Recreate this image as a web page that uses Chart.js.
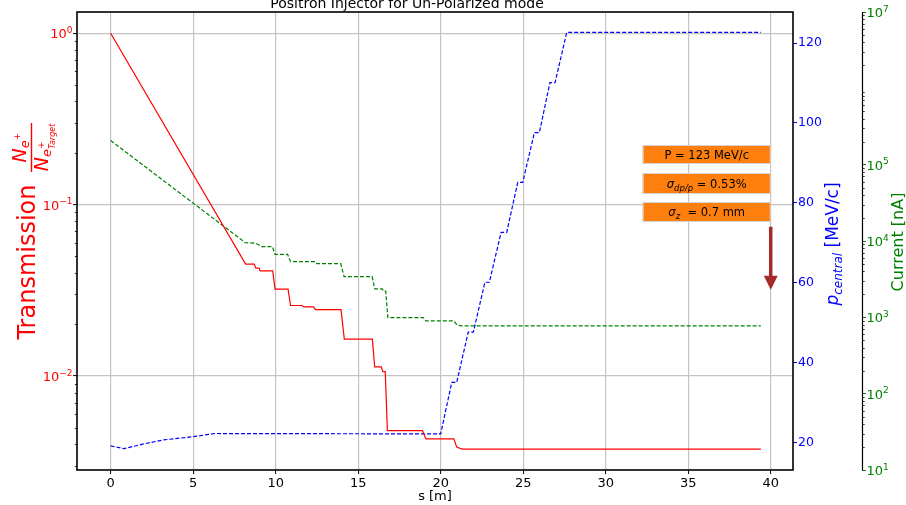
<!DOCTYPE html>
<html>
<head>
<meta charset="utf-8">
<title>Positron Injector for Un-Polarized mode</title>
<script src="https://cdn.jsdelivr.net/npm/chart.js@4.4.1/dist/chart.umd.min.js"></script>
<style>
    html, body { margin: 0; padding: 0; background: #fff; }
    canvas { display: block; }
</style>
</head>
<body>
<canvas id="injector-chart" width="906" height="505"></canvas>
<script>
(function() {
    'use strict';

    // Transmission N(e+) / N(e+ at target) along the beamline, s in metres
    const sTrans = [0, 8.18, 8.7, 8.8, 9.0, 9.05, 9.82, 9.96, 10.75, 10.9,
        11.6, 11.7, 12.3, 12.4, 13.96, 14.16, 15.86, 16.0, 16.4, 16.5,
        16.64, 16.77, 18.9, 19.1, 20.8, 20.97, 21.3, 39.4];
    const transmission = [1.0, 0.045, 0.045, 0.0426, 0.0426, 0.0411, 0.0411, 0.0321, 0.0321, 0.0258,
        0.0258, 0.0253, 0.0253, 0.0244, 0.0244, 0.0164, 0.0164, 0.0113, 0.0113, 0.0106,
        0.0106, 0.0048, 0.0048, 0.0043, 0.0043, 0.00385, 0.00375, 0.00375];

    // Positron current [nA]
    const sCurr = [0, 8.16, 8.8, 9.15, 9.8, 9.96, 10.72, 10.9, 12.4, 12.5,
        13.94, 14.15, 15.85, 16.0, 16.45, 16.55, 16.67, 16.8, 18.95, 19.1,
        20.8, 21.0, 21.3, 39.4];
    const current = [2.07e5, 9.5e3, 9.35e3, 8.45e3, 8.45e3, 6.7e3, 6.7e3, 5.37e3, 5.37e3, 5.05e3,
        5.05e3, 3.41e3, 3.41e3, 2.36e3, 2.36e3, 2.2e3, 2.2e3, 991, 991, 897,
        897, 790, 771, 771];

    // Central momentum [MeV/c]
    const sMom = [0, 0.8, 2, 3.2, 5, 6.3, 20.0, 20.67, 20.97, 21.67,
        21.98, 22.68, 22.95, 23.66, 24.0, 24.67, 24.97, 25.68, 25.98, 26.62,
        26.93, 27.64, 39.4];
    const momentum = [19.1, 18.4, 19.6, 20.6, 21.4, 22.2, 22.1, 35.0, 35.0, 47.6,
        47.6, 60.1, 60.1, 72.6, 72.6, 85.1, 85.1, 97.6, 97.6, 110.1,
        110.1, 122.7, 122.7];

    // Tick positions
    const sTicks = [0, 5, 10, 15, 20, 25, 30, 35, 40];
    const pTicks = [20, 40, 60, 80, 100, 120];
    const transDecades = [-2, -1, 0];
    const currDecades = [1, 2, 3, 4, 5, 7];

    const FONT = "'DejaVu Sans', sans-serif";
    const RED = '#ff0000';
    const GREEN = '#008000';
    const BLUE = '#0000ff';

    Chart.defaults.font.family = FONT;

    function points(xs, ys) {
        return xs.map(function(x, i) { return { x: x, y: ys[i] }; });
    }

    /**
     * Run a drawing callback in a frame rotated 90 degrees counter-clockwise
     */
    function drawRotated(ctx, x, y, fn) {
        ctx.save();
        ctx.translate(x, y);
        ctx.rotate(-Math.PI / 2);
        fn(ctx);
        ctx.restore();
    }

    /**
     * Draw a "10^n" tick label with a raised exponent
     */
    function drawPower(ctx, x, y, exp, color, align) {
        const base = '10';
        const sup = String(exp).replace('-', '\u2212');
        ctx.font = '13px ' + FONT;
        const wb = ctx.measureText(base).width;
        ctx.font = '9px ' + FONT;
        const ws = ctx.measureText(sup).width;
        const left = align === 'right' ? x - wb - ws : x;
        ctx.fillStyle = color;
        ctx.textAlign = 'left';
        ctx.textBaseline = 'alphabetic';
        ctx.font = '13px ' + FONT;
        ctx.fillText(base, left, y + 5);
        ctx.font = '9px ' + FONT;
        ctx.fillText(sup, left + wb, y - 0.5);
    }

    /**
     * Short minor ticks for a log axis
     */
    function drawMinorTicks(ctx, scale, x, dir) {
        const lo = Math.floor(Math.log10(scale.min));
        const hi = Math.ceil(Math.log10(scale.max));
        ctx.beginPath();
        for (let e = lo; e <= hi; e++) {
            for (let k = 2; k <= 9; k++) {
                const v = k * Math.pow(10, e);
                if (v < scale.min || v > scale.max) {
                    continue;
                }
                const y = Math.round(scale.getPixelForValue(v)) + 0.5;
                ctx.moveTo(x, y);
                ctx.lineTo(x + dir * 2.2, y);
            }
        }
        ctx.strokeStyle = '#000';
        ctx.lineWidth = 0.8;
        ctx.stroke();
    }

    /**
     * Runs of text are [text, font, baselineShift]
     */
    function runWidth(ctx, runs) {
        return runs.reduce(function(w, r) {
            ctx.font = r[1];
            return w + ctx.measureText(r[0]).width;
        }, 0);
    }

    function drawRuns(ctx, runs, x, y) {
        ctx.textAlign = 'left';
        ctx.textBaseline = 'alphabetic';
        runs.forEach(function(r) {
            ctx.font = r[1];
            ctx.fillText(r[0], x, y + r[2]);
            x += ctx.measureText(r[0]).width;
        });
    }

    /**
     * Orange parameter box with centred text
     */
    function drawTextBox(ctx, left, top, w, h, runs) {
        ctx.fillStyle = '#ff7f0e';
        ctx.fillRect(left, top, w, h);
        ctx.strokeStyle = '#d4d4d4';
        ctx.lineWidth = 1;
        ctx.strokeRect(left + 0.5, top + 0.5, w - 1, h - 1);
        ctx.fillStyle = '#000';
        const tw = runWidth(ctx, runs);
        drawRuns(ctx, runs, left + (w - tw) / 2, top + h / 2 + 4);
    }

    const decorPlugin = {
        id: 'injectorDecor',
        afterDraw: function(chart) {
            const ctx = chart.ctx;
            const a = chart.chartArea;
            const sx = chart.scales.x;
            const yT = chart.scales.yT;
            const yP = chart.scales.yP;
            const yI = chart.scales.yI;

            ctx.save();

            // Axes frame and the offset current spine
            ctx.strokeStyle = '#000';
            ctx.lineWidth = 1.6;
            ctx.strokeRect(a.left, a.top, a.right - a.left, a.bottom - a.top);
            ctx.lineWidth = 1.2;
            ctx.beginPath();
            ctx.moveTo(yI.left + 0.5, a.top);
            ctx.lineTo(yI.left + 0.5, a.bottom);
            ctx.stroke();

            drawMinorTicks(ctx, yT, a.left, -1);
            drawMinorTicks(ctx, yI, yI.left + 0.5, 1);

            transDecades.forEach(function(e) {
                drawPower(ctx, a.left - 4.5, yT.getPixelForValue(Math.pow(10, e)), e, RED, 'right');
            });
            currDecades.forEach(function(e) {
                drawPower(ctx, yI.left + 4.5, yI.getPixelForValue(Math.pow(10, e)), e, GREEN, 'left');
            });

            // Title, clipped by the top of the figure
            ctx.fillStyle = '#000';
            ctx.font = '14px ' + FONT;
            ctx.textAlign = 'center';
            ctx.textBaseline = 'alphabetic';
            ctx.fillText('Positron Injector for Un-Polarized mode', 407, 8);

            // x axis title
            ctx.font = '13px ' + FONT;
            ctx.fillText('s [m]', (a.left + a.right) / 2, 500);

            // Left axis title: Transmission N_{e+} / N_{e+,Target}
            ctx.fillStyle = RED;
            drawRotated(ctx, 35, 262, function(c) {
                c.font = '24px ' + FONT;
                c.textAlign = 'center';
                c.textBaseline = 'alphabetic';
                c.fillText('Transmission', 0, 0);
            });
            drawRotated(ctx, 0, 172, function(c) {
                c.fillRect(0, 30.8, 49, 1.4);
                const num = [
                    ['N', 'italic 19px ' + FONT, 26],
                    ['e', 'italic 13px ' + FONT, 29],
                    ['+', '9px ' + FONT, 20]
                ];
                let x = (49 - runWidth(c, num)) / 2;
                c.textAlign = 'left';
                num.forEach(function(r) {
                    c.font = r[1];
                    c.fillText(r[0], x, r[2]);
                    x += c.measureText(r[0]).width;
                });
                c.font = 'italic 19px ' + FONT;
                const wN = c.measureText('N').width;
                c.font = 'italic 13px ' + FONT;
                const wE = c.measureText('e').width;
                c.font = 'italic 8px ' + FONT;
                const wT = c.measureText('Target').width;
                x = (49 - (wN + wE + wT)) / 2;
                c.font = 'italic 19px ' + FONT;
                c.fillText('N', x, 48);
                c.font = 'italic 13px ' + FONT;
                c.fillText('e', x + wN, 51);
                c.font = '9px ' + FONT;
                c.fillText('+', x + wN + wE, 44);
                c.font = 'italic 8px ' + FONT;
                c.fillText('Target', x + wN + wE, 55);
            });

            // Right axis titles
            ctx.fillStyle = BLUE;
            drawRotated(ctx, 838, 244, function(c) {
                const runs = [
                    ['p', 'italic 17px ' + FONT, 0],
                    ['central', 'italic 12px ' + FONT, 4],
                    [' [MeV/c]', '17px ' + FONT, 0]
                ];
                drawRuns(c, runs, -runWidth(c, runs) / 2, 0);
            });
            ctx.fillStyle = GREEN;
            drawRotated(ctx, 903, 242, function(c) {
                c.font = '16px ' + FONT;
                c.textAlign = 'center';
                c.textBaseline = 'alphabetic';
                c.fillText('Current [nA]', 0, 0);
            });

            // Beam parameter boxes and marker arrow at s = 40 m
            const xEnd = sx.getPixelForValue(40);
            const boxLeft = xEnd - 128;
            drawTextBox(ctx, boxLeft, 145, 128, 19, [['P = 123 MeV/c', '11.5px ' + FONT, 0]]);
            drawTextBox(ctx, boxLeft, 173, 128, 21, [
                ['\u03c3', 'italic 11.5px ' + FONT, 0],
                ['dp/p', 'italic 8.5px ' + FONT, 3],
                [' = 0.53%', '11.5px ' + FONT, 0]
            ]);
            drawTextBox(ctx, boxLeft, 202, 128, 20, [
                ['\u03c3', 'italic 11.5px ' + FONT, 0],
                ['z', 'italic 8.5px ' + FONT, 3],
                ['  = 0.7 mm', '11.5px ' + FONT, 0]
            ]);

            const yTop = yP.getPixelForValue(74);
            const yTip = yP.getPixelForValue(58.2);
            ctx.fillStyle = '#a52a2a';
            ctx.fillRect(xEnd - 1.75, yTop, 3.5, yTip - yTop - 13);
            ctx.beginPath();
            ctx.moveTo(xEnd - 7, yTip - 14);
            ctx.lineTo(xEnd + 7, yTip - 14);
            ctx.lineTo(xEnd, yTip);
            ctx.closePath();
            ctx.fill();

            ctx.restore();
        }
    };

    function fixedWidth(w) {
        return function(scale) { scale.width = w; };
    }

    const ctx = document.getElementById('injector-chart').getContext('2d');
    new Chart(ctx, {
        type: 'line',
        data: {
            datasets: [{
                label: 'Transmission',
                data: points(sTrans, transmission),
                yAxisID: 'yT',
                borderColor: RED,
                borderWidth: 1.2,
                pointRadius: 0,
                tension: 0
            }, {
                label: 'Current',
                data: points(sCurr, current),
                yAxisID: 'yI',
                borderColor: GREEN,
                borderWidth: 1.2,
                borderDash: [4, 2],
                pointRadius: 0,
                tension: 0
            }, {
                label: 'Momentum',
                data: points(sMom, momentum),
                yAxisID: 'yP',
                borderColor: BLUE,
                borderWidth: 1.2,
                borderDash: [4, 2],
                pointRadius: 0,
                tension: 0
            }]
        },
        options: {
            responsive: false,
            animation: false,
            events: [],
            layout: {
                padding: { top: 12, left: 0, right: 0, bottom: 0 }
            },
            plugins: {
                legend: { display: false },
                tooltip: { enabled: false }
            },
            scales: {
                x: {
                    type: 'linear',
                    position: 'bottom',
                    min: -2.04,
                    max: 41.35,
                    afterBuildTicks: function(scale) {
                        scale.ticks = sTicks.map(function(v) { return { value: v }; });
                    },
                    afterFit: function(scale) { scale.height = 35; },
                    border: { display: false },
                    grid: {
                        color: '#c4c4c4',
                        lineWidth: 1.2,
                        tickColor: '#000',
                        tickLength: 4,
                        tickWidth: 1
                    },
                    ticks: {
                        color: '#000',
                        padding: 2,
                        maxRotation: 0,
                        font: { size: 13 },
                        callback: function(v) { return String(v); }
                    }
                },
                yT: {
                    type: 'logarithmic',
                    position: 'left',
                    min: 0.00283,
                    max: 1.33,
                    afterBuildTicks: function(scale) {
                        scale.ticks = transDecades.map(function(e) { return { value: Math.pow(10, e) }; });
                    },
                    afterFit: fixedWidth(77),
                    border: { display: false },
                    grid: {
                        color: '#c4c4c4',
                        lineWidth: 1.2,
                        tickColor: '#000',
                        tickLength: 4,
                        tickWidth: 1
                    },
                    ticks: { display: false }
                },
                yP: {
                    type: 'linear',
                    position: 'right',
                    weight: 2,
                    min: 13.06,
                    max: 127.8,
                    afterBuildTicks: function(scale) {
                        scale.ticks = pTicks.map(function(v) { return { value: v }; });
                    },
                    afterFit: fixedWidth(69),
                    border: { display: false },
                    grid: {
                        drawOnChartArea: false,
                        tickColor: BLUE,
                        tickLength: 4,
                        tickWidth: 1
                    },
                    ticks: {
                        color: BLUE,
                        padding: 1,
                        font: { size: 12.5 },
                        callback: function(v) { return String(v); }
                    }
                },
                yI: {
                    type: 'logarithmic',
                    position: 'right',
                    weight: 3,
                    min: 10,
                    max: 1e7,
                    afterBuildTicks: function(scale) {
                        scale.ticks = currDecades.map(function(e) { return { value: Math.pow(10, e) }; });
                    },
                    afterFit: fixedWidth(44),
                    border: { display: false },
                    grid: {
                        drawOnChartArea: false,
                        tickColor: GREEN,
                        tickLength: 4,
                        tickWidth: 1
                    },
                    ticks: { display: false }
                }
            }
        },
        plugins: [decorPlugin]
    });
})();
</script>
</body>
</html>
